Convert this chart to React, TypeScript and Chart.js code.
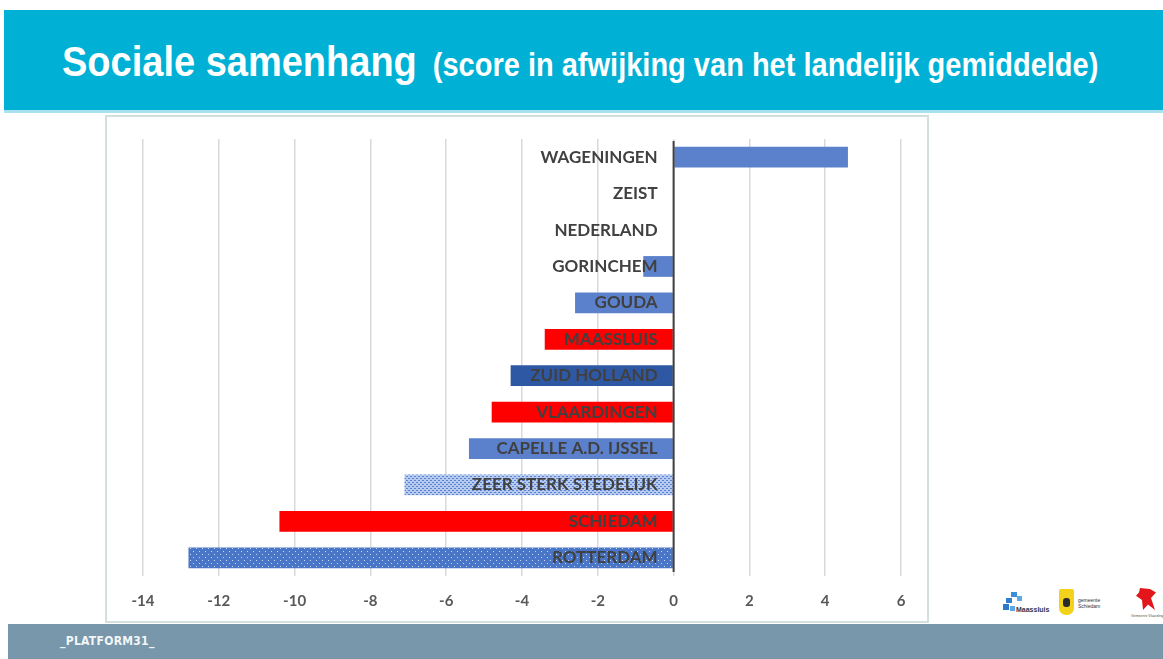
import React, { useEffect, useRef } from 'react';
import { Chart, registerables } from 'chart.js';

Chart.register(...registerables);

const categories = [
  'WAGENINGEN',
  'ZEIST',
  'NEDERLAND',
  'GORINCHEM',
  'GOUDA',
  'MAASSLUIS',
  'ZUID HOLLAND',
  'VLAARDINGEN',
  'CAPELLE A.D. IJSSEL',
  'ZEER STERK STEDELIJK',
  'SCHIEDAM',
  'ROTTERDAM',
];
const scores = [4.6, 0, 0, -0.8, -2.6, -3.4, -4.3, -4.8, -5.4, -7.1, -10.4, -12.8];
const barKinds = ['blue', 'blue', 'blue', 'blue', 'blue', 'red', 'navy', 'red', 'blue', 'lightDots', 'red', 'blueDots'];
const xMin = -14;
const xMax = 6;
const xStep = 2;

function makePattern(bg: string, dot: string, w: number, h: number, dots: number[][], size = 1) {
  const c = document.createElement('canvas');
  c.width = w;
  c.height = h;
  const g = c.getContext('2d')!;
  g.fillStyle = bg;
  g.fillRect(0, 0, w, h);
  g.fillStyle = dot;
  dots.forEach(([x, y]) => g.fillRect(x, y, size, size));
  return g.createPattern(c, 'repeat')!;
}

export default function App() {
  const ref = useRef<HTMLCanvasElement>(null);

  useEffect(() => {
    const canvas = ref.current!;
    const lightDots = makePattern('#b7cbf0', '#5a82cf', 4, 4, [[0, 0], [2, 2], [1, 0], [3, 2]], 1);
    const blueDots = makePattern('#4a76c8', '#c9d8f4', 6, 6, [[0, 0], [3, 3]], 1);
    const colorFor: Record<string, any> = {
      blue: '#5b80cc',
      red: '#ff0000',
      navy: '#2f58a4',
      lightDots,
      blueDots,
    };

    const labelPlugin = {
      id: 'categoryLabels',
      afterDatasetsDraw(chart: any) {
        const { ctx, chartArea } = chart;
        const xs = chart.scales.x;
        const ys = chart.scales.y;
        const x0 = xs.getPixelForValue(0);
        ctx.save();
        ctx.strokeStyle = '#404040';
        ctx.lineWidth = 2;
        ctx.beginPath();
        ctx.moveTo(x0, chartArea.top + 2);
        ctx.lineTo(x0, chartArea.bottom - 4);
        ctx.stroke();
        ctx.font = 'bold 17px Lato';
        ctx.textAlign = 'right';
        ctx.textBaseline = 'middle';
        ctx.fillStyle = '#404040';
        categories.forEach((c, i) => {
          ctx.fillText(c, x0 - 16, ys.getPixelForValue(i));
        });
        ctx.restore();
      },
    };

    const chart = new Chart(canvas, {
      type: 'bar',
      data: {
        labels: categories,
        datasets: [
          {
            data: scores,
            backgroundColor: barKinds.map((k) => colorFor[k]),
            borderWidth: 0,
            categoryPercentage: 1,
            barPercentage: 0.57,
          },
        ],
      },
      options: {
        indexAxis: 'y',
        responsive: false,
        animation: false,
        devicePixelRatio: 1,
        layout: { padding: { left: 37, right: 29, top: 23, bottom: 0 } },
        plugins: {
          legend: { display: false },
          title: { display: false },
          tooltip: { enabled: false },
        },
        scales: {
          x: {
            min: xMin,
            max: xMax,
            ticks: {
              stepSize: xStep,
              color: '#595959',
              font: { family: 'Lato', size: 15, weight: 'bold' },
              padding: 16,
            },
            grid: { color: '#d9d9d9', lineWidth: 1.5, drawTicks: false },
            border: { display: false },
          },
          y: {
            display: false,
          },
        },
      },
      plugins: [labelPlugin],
    });
    return () => chart.destroy();
  }, []);

  return (
    <div
      style={{
        position: 'absolute',
        left: 0,
        top: 0,
        width: 1163,
        height: 659,
        overflow: 'hidden',
        background: '#ffffff',
        fontFamily: '"Liberation Sans", Arial, sans-serif',
      }}
    >
      <div style={{ position: 'absolute', left: 4, top: 10, width: 1159, height: 100, background: '#00b0d5' }} />
      <div style={{ position: 'absolute', left: 4, top: 110, width: 1159, height: 3, background: '#a8e2ee' }} />
      <div
        style={{
          position: 'absolute',
          left: 62,
          top: 37,
          whiteSpace: 'nowrap',
          color: '#ffffff',
          fontWeight: 'bold',
          transform: 'scale(1, 1.12)',
          transformOrigin: 'left top',
          lineHeight: '44px',
        }}
      >
        <span style={{ fontSize: 38 }}>Sociale samenhang</span>
        <span style={{ fontSize: 29, marginLeft: 16 }}>(score in afwijking van het landelijk gemiddelde)</span>
      </div>
      <div
        style={{
          position: 'absolute',
          left: 105,
          top: 115,
          width: 824,
          height: 508,
          border: '2px solid #d3dede',
          boxSizing: 'border-box',
        }}
      />
      <div style={{ position: 'absolute', left: 8, top: 624, width: 1155, height: 35, background: '#7897aa' }} />
      <canvas ref={ref} width={824} height={510} style={{ position: 'absolute', left: 106, top: 116 }} />
      <div
        style={{
          position: 'absolute',
          left: 60,
          top: 634,
          color: '#f2f5f7',
          fontFamily: '"DejaVu Sans Condensed", "DejaVu Sans", sans-serif',
          fontSize: 12,
          fontWeight: 'bold',
          letterSpacing: 0.3,
        }}
      >
        _PLATFORM31_
      </div>
      {/* Logos */}
      <div style={{ position: 'absolute', left: 1003, top: 592, width: 22, height: 20 }}>
        <div style={{ position: 'absolute', left: 8, top: 0, width: 6, height: 5, background: '#3a8fd8' }} />
        <div style={{ position: 'absolute', left: 14, top: 4, width: 5, height: 5, background: '#5aa8e6' }} />
        <div style={{ position: 'absolute', left: 3, top: 6, width: 6, height: 5, background: '#2f7fcf' }} />
        <div style={{ position: 'absolute', left: 0, top: 12, width: 6, height: 6, background: '#2d78c8' }} />
        <div style={{ position: 'absolute', left: 7, top: 14, width: 5, height: 5, background: '#5aa8e6' }} />
      </div>
      <div style={{ position: 'absolute', left: 1016, top: 606, fontSize: 7, fontWeight: 'bold', color: '#2b3a55' }}>Maassluis</div>
      <div
        style={{
          position: 'absolute',
          left: 1059,
          top: 589,
          width: 15,
          height: 26,
          background: '#f2d21a',
          borderRadius: '2px 2px 7px 7px',
        }}
      >
        <div style={{ position: 'absolute', left: 4, top: 9, width: 7, height: 9, background: '#2a2a2a', borderRadius: 3 }} />
      </div>
      <div style={{ position: 'absolute', left: 1078, top: 597, fontSize: 5, lineHeight: '6px', color: '#333' }}>
        gemeente
        <br />
        Schiedam
      </div>
      <div
        style={{
          position: 'absolute',
          left: 1136,
          top: 588,
          width: 20,
          height: 22,
          background: '#e3161b',
          clipPath: 'polygon(20% 0, 70% 5%, 100% 20%, 75% 45%, 95% 100%, 60% 75%, 35% 100%, 30% 55%, 0 35%, 15% 20%)',
        }}
      />
      <div style={{ position: 'absolute', left: 1131, top: 614, fontSize: 3.5, color: '#555', whiteSpace: 'nowrap' }}>
        Gemeente Vlaardingen
      </div>
    </div>
  );
}
